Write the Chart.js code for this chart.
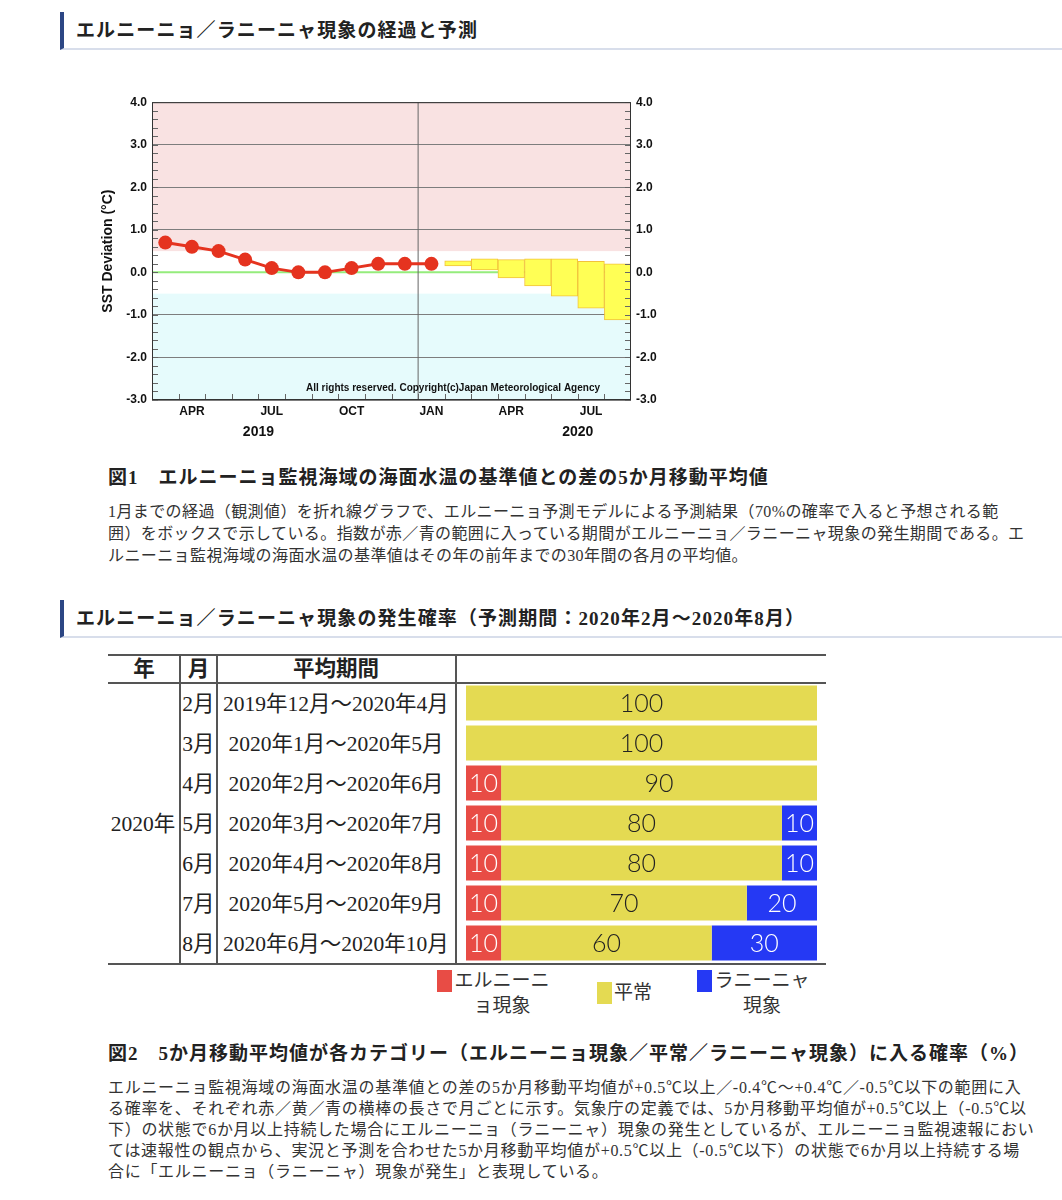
<!DOCTYPE html>
<html lang="ja">
<head>
<meta charset="utf-8">
<title>エルニーニョ／ラニーニャ現象の経過と予測</title>
<script src="https://cdn.jsdelivr.net/npm/chart.js@4.4.0/dist/chart.umd.min.js"></script>
<style>
  body { margin: 0; width: 1062px; height: 1200px; position: relative; overflow: hidden; background: #fff;
         font-family: "Liberation Serif", "Noto Sans CJK JP", serif; color: #222; }
  .abs { position: absolute; white-space: nowrap; }
  .head { position: absolute; left: 60px; width: 1002px; height: 38px; box-sizing: border-box;
          border-left: 4px solid #2c4684; border-bottom: 2px solid #d8deeb; }
  .head span { position: absolute; left: 12px; top: 0; line-height: 38px; font-size: 19px; letter-spacing: 1.1px;
               font-weight: bold; color: #222; white-space: nowrap; }
  .cap { position: absolute; left: 108px; font-size: 19px; letter-spacing: 1px; font-weight: bold; line-height: 24px; white-space: nowrap; }
  .para { position: absolute; left: 108px; font-size: 16px; letter-spacing: 0.4px; color: #333; white-space: nowrap; }
  .para div { height: 22px; line-height: 22px; }
  .line { position: absolute; background: #555; }
  .cell { position: absolute; text-align: center; font-size: 21.5px; line-height: 40px; height: 40px; white-space: nowrap; }
  .sw { position: absolute; }
  .lg { position: absolute; font-size: 19px; line-height: 25px; color: #333; text-align: center; }
</style>
</head>
<body>

<div class="head" style="top:12px"><span>エルニーニョ／ラニーニャ現象の経過と予測</span></div>

<div class="abs" style="left:100px; top:90px; width:570px; height:355px;">
  <canvas id="sstChart"></canvas>
</div>

<div class="cap" style="top:466px">図1　エルニーニョ監視海域の海面水温の基準値との差の5か月移動平均値</div>
<div class="para" style="top:501px">
  <div>1月までの経過（観測値）を折れ線グラフで、エルニーニョ予測モデルによる予測結果（70%の確率で入ると予想される範</div>
  <div>囲）をボックスで示している。指数が赤／青の範囲に入っている期間がエルニーニョ／ラニーニャ現象の発生期間である。エ</div>
  <div>ルニーニョ監視海域の海面水温の基準値はその年の前年までの30年間の各月の平均値。</div>
</div>

<div class="head" style="top:600px"><span>エルニーニョ／ラニーニャ現象の発生確率（予測期間：2020年2月～2020年8月）</span></div>

<!-- table frame -->
<div class="line" style="left:108px; top:654px; width:718px; height:2px;"></div>
<div class="line" style="left:108px; top:682px; width:718px; height:2px;"></div>
<div class="line" style="left:108px; top:963px; width:718px; height:2px;"></div>
<div class="line" style="left:179px; top:654px; width:2px; height:310px;"></div>
<div class="line" style="left:216px; top:654px; width:2px; height:310px;"></div>
<div class="line" style="left:455px; top:654px; width:2px; height:310px;"></div>
<div id="tableText"></div>

<div class="abs" style="left:457px; top:683px; width:369px; height:281px;">
  <canvas id="probChart"></canvas>
</div>

<div id="legendBox"></div>

<div class="cap" style="top:1042px">図2　5か月移動平均値が各カテゴリー（エルニーニョ現象／平常／ラニーニャ現象）に入る確率（%）</div>
<div class="para" style="top:1077px; letter-spacing:0.7px;">
  <div style="height:21px;line-height:21px">エルニーニョ監視海域の海面水温の基準値との差の5か月移動平均値が+0.5℃以上／-0.4℃～+0.4℃／-0.5℃以下の範囲に入</div>
  <div style="height:21px;line-height:21px">る確率を、それぞれ赤／黄／青の横棒の長さで月ごとに示す。気象庁の定義では、5か月移動平均値が+0.5℃以上（-0.5℃以</div>
  <div style="height:21px;line-height:21px">下）の状態で6か月以上持続した場合にエルニーニョ（ラニーニャ）現象の発生としているが、エルニーニョ監視速報におい</div>
  <div style="height:21px;line-height:21px">ては速報性の観点から、実況と予測を合わせた5か月移動平均値が+0.5℃以上（-0.5℃以下）の状態で6か月以上持続する場</div>
  <div style="height:21px;line-height:21px">合に「エルニーニョ（ラニーニャ）現象が発生」と表現している。</div>
</div>

<script>
// ---- figure 1 data: SST deviation, 5-month running mean ----
const sstMonths = ['2019-03', '2019-04', '2019-05', '2019-06', '2019-07', '2019-08', '2019-09', '2019-10', '2019-11',
                   '2019-12', '2020-01', '2020-02', '2020-03', '2020-04', '2020-05', '2020-06', '2020-07', '2020-08'];
const monthTickLabels = ['', 'APR', '', '', 'JUL', '', '', 'OCT', '', '', 'JAN', '', '', 'APR', '', '', 'JUL', ''];
const yearLabels = ['2019', '2020'];
const observed = [0.7, 0.6, 0.5, 0.3, 0.1, 0.0, 0.0, 0.1, 0.2, 0.2, 0.2, null, null, null, null, null, null, null];
const forecastLow = [null, null, null, null, null, null, null, null, null, null, null, 0.15, 0.06, -0.13, -0.32, -0.56, -0.84, -1.12];
const forecastHigh = [null, null, null, null, null, null, null, null, null, null, null, 0.27, 0.32, 0.30, 0.32, 0.32, 0.26, 0.20];
const yTicks = [4, 3, 2, 1, 0, -1, -2, -3];
const elNinoLimit = 0.5;
const laNinaLimit = -0.5;

// ---- figure 2 data: probabilities (%) ----
const tableYear = '2020年';
const rowMonths = ['2月', '3月', '4月', '5月', '6月', '7月', '8月'];
const rowPeriods = ['2019年12月～2020年4月', '2020年1月～2020年5月', '2020年2月～2020年6月', '2020年3月～2020年7月',
                    '2020年4月～2020年8月', '2020年5月～2020年9月', '2020年6月～2020年10月'];
const elNinoProb = [0, 0, 10, 10, 10, 10, 10];
const normalProb = [100, 100, 90, 80, 80, 70, 60];
const laNinaProb = [0, 0, 0, 10, 10, 20, 30];
const categoryNames = ['エルニーニョ現象', '平常', 'ラニーニャ現象'];

const axisFont = { family: 'Liberation Sans', size: 12, weight: 'bold' };

// shaded bands, zero line, january line, minor ticks, frame, copyright, years
const sstDecor = {
  id: 'sstDecor',
  beforeDraw(chart) {
    const { ctx, chartArea: a, scales: { y } } = chart;
    const hi = y.getPixelForValue(elNinoLimit), lo = y.getPixelForValue(laNinaLimit);
    ctx.save();
    ctx.fillStyle = '#f9e2e2';
    ctx.fillRect(a.left, a.top, a.width, hi - a.top);
    ctx.fillStyle = '#e6fbfc';
    ctx.fillRect(a.left, lo, a.width, a.bottom - lo);
    ctx.restore();
  },
  beforeDatasetsDraw(chart) {
    const { ctx, chartArea: a, scales: { x, y } } = chart;
    ctx.save();
    ctx.strokeStyle = '#95ec7c';
    ctx.lineWidth = 2;
    ctx.beginPath();
    ctx.moveTo(a.left, y.getPixelForValue(0));
    ctx.lineTo(a.right, y.getPixelForValue(0));
    ctx.stroke();
    const jan = x.getPixelForValue(sstMonths.indexOf('2020-01') - 0.5);
    ctx.strokeStyle = '#666';
    ctx.lineWidth = 1;
    ctx.beginPath();
    ctx.moveTo(jan, a.top);
    ctx.lineTo(jan, a.bottom);
    ctx.stroke();
    ctx.restore();
  },
  afterDraw(chart) {
    const { ctx, chartArea: a, scales: { x, y } } = chart;
    ctx.save();
    ctx.strokeStyle = '#666';
    ctx.lineWidth = 1;
    ctx.beginPath();
    for (let v = -3; v <= 4.001; v += 0.2) {
      const py = Math.round(y.getPixelForValue(v)) + 0.5;
      ctx.moveTo(a.left, py); ctx.lineTo(a.left + 6, py);
      ctx.moveTo(a.right, py); ctx.lineTo(a.right - 6, py);
    }
    for (let i = 0; i < sstMonths.length - 1; i++) {
      const px = Math.round(x.getPixelForValue(i + 0.5)) + 0.5;
      ctx.moveTo(px, a.bottom); ctx.lineTo(px, a.bottom - 6);
    }
    ctx.stroke();
    ctx.strokeStyle = '#333';
    ctx.strokeRect(a.left + 0.5, a.top + 0.5, a.width - 1, a.height - 1);

    ctx.fillStyle = '#111';
    ctx.font = 'bold 10px "Liberation Sans"';
    ctx.textAlign = 'right';
    ctx.textBaseline = 'middle';
    ctx.fillText('All rights reserved. Copyright(c)Japan Meteorological Agency', a.right - 31, a.bottom - 12);

    ctx.font = 'bold 14px "Liberation Sans"';
    ctx.textAlign = 'center';
    yearLabels.forEach(yr => {
      const px = x.getPixelForValue(sstMonths.indexOf(yr + '-07') - 0.5);
      ctx.fillText(yr, px, a.bottom + 32);
    });
    ctx.restore();
  }
};

const yTickOpts = {
  stepSize: 1, padding: 5, color: '#111', font: axisFont,
  callback: v => yTicks.includes(v) ? v.toFixed(1) : ''
};

new Chart(document.getElementById('sstChart'), {
  data: {
    labels: sstMonths,
    datasets: [
      {
        type: 'line', label: '観測値', data: observed, order: 1,
        borderColor: '#e5331f', borderWidth: 3, pointRadius: 7, pointBackgroundColor: '#e5331f',
        pointBorderWidth: 0, spanGaps: false
      },
      {
        type: 'bar', label: '予測（70%）', order: 2,
        data: forecastLow.map((lo, i) => lo === null ? null : [lo, forecastHigh[i]]),
        backgroundColor: '#ffff55', borderColor: '#f2c23c', borderWidth: 1, borderSkipped: false,
        barPercentage: 1, categoryPercentage: 1
      }
    ]
  },
  options: {
    responsive: true, maintainAspectRatio: false, animation: false,
    layout: { padding: { top: 11 } },
    plugins: { legend: { display: false }, tooltip: { enabled: false } },
    scales: {
      x: {
        type: 'category', offset: true,
        grid: { display: false, drawTicks: false }, border: { display: false },
        ticks: { autoSkip: false, maxRotation: 0, padding: 4, color: '#111', font: axisFont,
                 callback: (v, i) => monthTickLabels[i] },
        afterFit: s => { s.height = 45; }
      },
      y: {
        min: -3, max: 4, ticks: yTickOpts,
        grid: { color: '#7d7d7d', drawTicks: false }, border: { display: false },
        title: { display: true, text: 'SST Deviation (°C)', color: '#111', padding: 0,
                 font: { family: 'Liberation Sans', size: 14, weight: 'bold' } },
        afterFit: s => { s.width = 52; }
      },
      y2: {
        position: 'right', min: -3, max: 4, ticks: yTickOpts,
        grid: { display: false, drawTicks: false }, border: { display: false },
        afterFit: s => { s.width = 39; }
      }
    }
  },
  plugins: [sstDecor]
});

// ---- table text ----
const tt = document.getElementById('tableText');
function cell(text, left, width, top, bold) {
  const d = document.createElement('div');
  d.className = 'cell';
  d.style.left = left + 'px';
  d.style.width = width + 'px';
  d.style.top = top + 'px';
  if (bold) d.style.fontWeight = 'bold';
  d.textContent = text;
  tt.appendChild(d);
}
cell('年', 108, 72, 649, true);
cell('月', 180, 37, 649, true);
cell('平均期間', 217, 238, 649, true);
rowMonths.forEach((m, i) => {
  cell(m, 180, 37, 684 + i * 40);
  cell(rowPeriods[i], 217, 238, 684 + i * 40);
});
cell(tableYear, 104, 78, 684 + 3 * 40);

// ---- probability bars ----
const barColors = ['#e84c45', '#e4da52', '#2539f4'];
const barTextColors = ['#fff', '#222', '#fff'];

const barLabels = {
  id: 'barLabels',
  afterDatasetsDraw(chart) {
    const ctx = chart.ctx;
    ctx.save();
    ctx.font = '300 25px Lato, "Open Sans", sans-serif';
    ctx.textAlign = 'center';
    ctx.textBaseline = 'middle';
    chart.data.datasets.forEach((ds, di) => {
      chart.getDatasetMeta(di).data.forEach((bar, j) => {
        const v = ds.data[j];
        if (!v) return;
        const p = bar.getProps(['x', 'y', 'base'], true);
        ctx.fillStyle = barTextColors[di];
        ctx.fillText(String(v), (p.x + p.base) / 2, p.y + 1);
      });
    });
    ctx.restore();
  }
};

new Chart(document.getElementById('probChart'), {
  type: 'bar',
  data: {
    labels: rowMonths,
    datasets: [
      { label: categoryNames[0], data: elNinoProb, backgroundColor: barColors[0] },
      { label: categoryNames[1], data: normalProb, backgroundColor: barColors[1] },
      { label: categoryNames[2], data: laNinaProb, backgroundColor: barColors[2] }
    ]
  },
  options: {
    indexAxis: 'y', responsive: true, maintainAspectRatio: false, animation: false,
    layout: { padding: { left: 9, right: 9, top: 0, bottom: 1 } },
    datasets: { bar: { barPercentage: 0.875, categoryPercentage: 1, borderWidth: 0 } },
    plugins: { legend: { display: false }, tooltip: { enabled: false } },
    scales: {
      x: { stacked: true, min: 0, max: 100, display: false },
      y: { stacked: true, display: false }
    }
  },
  plugins: [barLabels]
});

// ---- legend under the bars ----
const lb = document.getElementById('legendBox');
const legendSpots = [
  { sw: [437, 970], text: [452, 968, 100] },
  { sw: [597, 982], text: [612, 980, 42] },
  { sw: [697, 970], text: [712, 968, 100] }
];
categoryNames.forEach((name, i) => {
  const s = document.createElement('div');
  s.className = 'sw';
  s.style.cssText = `left:${legendSpots[i].sw[0]}px;top:${legendSpots[i].sw[1]}px;width:15px;height:22px;background:${barColors[i]}`;
  lb.appendChild(s);
  const t = document.createElement('div');
  t.className = 'lg';
  const [l, tp, w] = legendSpots[i].text;
  t.style.cssText = `left:${l}px;top:${tp}px;width:${w}px`;
  t.textContent = name;
  lb.appendChild(t);
});
</script>
</body>
</html>
